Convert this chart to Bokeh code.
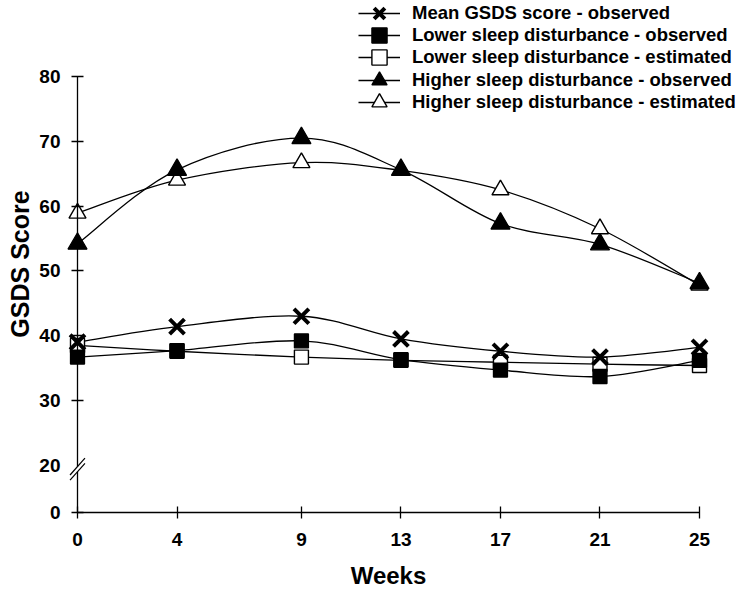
from bokeh.plotting import figure
from bokeh.models import Range1d, LinearAxis, FixedTicker, Legend, LegendItem, ColumnDataSource
from bokeh.embed import file_html
from bokeh.resources import INLINE

# ---------------- data ----------------
weeks = [0, 4, 9, 13, 17, 21, 25]
mean_observed = [39.0, 41.4, 43.0, 39.5, 37.6, 36.7, 38.2]
lower_observed = [36.7, 37.7, 39.2, 36.3, 34.7, 33.7, 36.2]
lower_estimated = [38.5, 37.6, 36.7, 36.2, 35.9, 35.6, 35.4]
higher_observed = [54.2, 65.6, 70.5, 65.6, 57.3, 54.1, 48.1]
higher_estimated = [58.9, 64.0, 66.7, 65.5, 62.5, 56.5, 47.8]

y_ticks = [30, 40, 50, 60, 70, 80]
ZERO_POS = 12.716   # where "0" sits below the axis break
BREAK_Y = 19.4

FONT = "Liberation Sans"
W, H = 742, 589

p = figure(width=W, height=H, output_backend="svg", toolbar_location=None,
           x_range=Range1d(-3.095, 26.728), y_range=Range1d(0.833, 91.728),
           x_axis_location=None, y_axis_location=None,
           min_border_left=0, min_border_right=0, min_border_top=0, min_border_bottom=0)
p.outline_line_color = None
p.xgrid.visible = False
p.ygrid.visible = False


def style_axis(ax, size="19px"):
    ax.major_label_text_font = FONT
    ax.major_label_text_font_style = "bold"
    ax.major_label_text_font_size = size
    ax.major_label_text_color = "black"
    ax.axis_label_text_font = FONT
    ax.axis_label_text_font_style = "bold"
    ax.axis_label_text_font_size = "24px"
    ax.axis_label_text_color = "black"
    ax.minor_tick_line_color = None
    ax.axis_line_color = "black"
    ax.axis_line_width = 1.3
    ax.major_tick_line_color = "black"
    ax.major_tick_line_width = 1.3
    ax.major_tick_in = 6
    ax.major_tick_out = 6


# x axis
xax = LinearAxis(ticker=FixedTicker(ticks=weeks), fixed_location=ZERO_POS, bounds=(0, 25),
                 axis_label="Weeks")
style_axis(xax)
xax.major_label_standoff = 15
xax.axis_label_standoff = 12
p.add_layout(xax, "below")

# y axis (main, with ticks)
yax = LinearAxis(ticker=FixedTicker(ticks=[ZERO_POS] + y_ticks), fixed_location=0,
                 bounds=(ZERO_POS, 80))
style_axis(yax)
yax.major_label_overrides = {ZERO_POS: "0"}
yax.major_label_standoff = 11
p.add_layout(yax, "left")

# y axis label "20" at break + axis title
yax2 = LinearAxis(ticker=FixedTicker(ticks=[20]), fixed_location=0, bounds=(20, 82.2),
                  axis_label="GSDS Score")
style_axis(yax2)
yax2.axis_label_text_font_size = "25px"
yax2.axis_line_color = None
yax2.major_tick_line_color = None
yax2.major_tick_in = 0
yax2.major_tick_out = 0
yax2.major_label_standoff = 17
yax2.axis_label_standoff = 2
p.add_layout(yax2, "left")

# axis break marks
gap = ColumnDataSource(dict(l=[-0.1], r=[0.1], b=[BREAK_Y - 0.4], t=[BREAK_Y + 0.4]))
p.quad(left="l", right="r", bottom="b", top="t", source=gap, fill_color="white",
       line_color=None, level="overlay")
sl = ColumnDataSource(dict(x0=[-0.30, -0.30], y0=[BREAK_Y + 0.4 - 1.3, BREAK_Y - 0.4 - 1.3],
                           x1=[0.30, 0.30], y1=[BREAK_Y + 0.4 + 1.3, BREAK_Y - 0.4 + 1.3]))
p.segment(x0="x0", y0="y0", x1="x1", y1="y1", source=sl, line_color="black",
          line_width=1.2, level="overlay")


def smooth_segments(xs, ys):
    n = len(xs)
    d = dict(x0=[], y0=[], x1=[], y1=[], cx0=[], cy0=[], cx1=[], cy1=[])
    for i in range(n - 1):
        ip = max(i - 1, 0)
        inn = min(i + 2, n - 1)
        d["x0"].append(xs[i]); d["y0"].append(ys[i])
        d["x1"].append(xs[i + 1]); d["y1"].append(ys[i + 1])
        d["cx0"].append(xs[i] + (xs[i + 1] - xs[ip]) / 6.0)
        d["cy0"].append(ys[i] + (ys[i + 1] - ys[ip]) / 6.0)
        d["cx1"].append(xs[i + 1] - (xs[inn] - xs[i]) / 6.0)
        d["cy1"].append(ys[i + 1] - (ys[inn] - ys[i]) / 6.0)
    return ColumnDataSource(d)


series = [
    ("Mean GSDS score - observed", mean_observed, dict(marker="x", size=21, line_color="black", line_width=4)),
    ("Lower sleep disturbance - observed", lower_observed, dict(marker="square", size=14, fill_color="black", line_color="black", line_width=1.3)),
    ("Lower sleep disturbance - estimated", lower_estimated, dict(marker="square", size=14, fill_color="white", line_color="black", line_width=1.4)),
    ("Higher sleep disturbance - observed", higher_observed, dict(marker="triangle", size=19, fill_color="black", line_color="black", line_width=1.3)),
    ("Higher sleep disturbance - estimated", higher_estimated, dict(marker="triangle", size=17, fill_color="white", line_color="black", line_width=1.4)),
]

# curves first
for name, vals, mk in series:
    p.bezier(x0="x0", y0="y0", x1="x1", y1="y1", cx0="cx0", cy0="cy0", cx1="cx1", cy1="cy1",
             source=smooth_segments(weeks, vals), line_color="black", line_width=1.3)

# markers, in drawing order
draw_order = [2, 1, 4, 3, 0]
scatter_r = {}
for idx in draw_order:
    name, vals, mk = series[idx]
    scatter_r[idx] = p.scatter(x=weeks, y=vals, **mk)

# legend: one single-item legend per row so that rows can sit close together
ROW0 = 13
PITCH = 22.2
GH = 38
for idx, (name, vals, mk) in enumerate(series):
    lr = p.line(x=[float("nan")], y=[float("nan")], line_color="black", line_width=1.3)
    centre = ROW0 + PITCH * idx
    lg = Legend(items=[LegendItem(label=name, renderers=[lr, scatter_r[idx]])],
                location=(358, round(H - (centre + GH / 2))), orientation="vertical",
                glyph_width=42, glyph_height=GH, spacing=0, label_standoff=12,
                padding=0, margin=0, border_line_color=None, background_fill_alpha=0,
                label_text_font=FONT, label_text_font_style="bold",
                label_text_font_size="18.5px", label_text_color="black")
    p.add_layout(lg, "center")

open("out.html", "w").write(file_html(p, INLINE))
